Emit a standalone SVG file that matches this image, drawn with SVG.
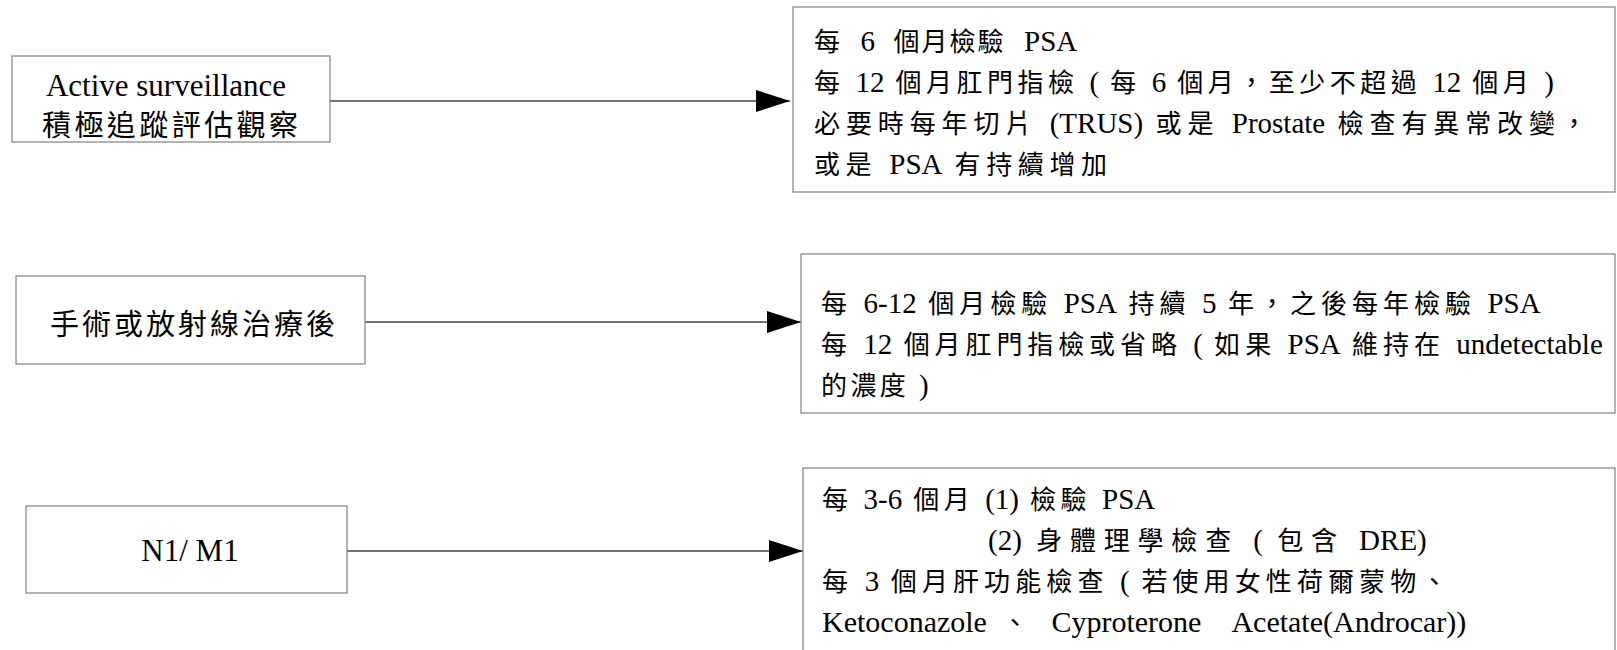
<svg xmlns="http://www.w3.org/2000/svg" width="1617" height="650" viewBox="0 0 1617 650">
<style>
.box{fill:#fff;stroke:#8a8a8a;stroke-width:1.3}
.t{font-family:"Liberation Serif","Noto Sans CJK TC",serif;fill:#000}
.r{font-size:26px}
.la{font-size:29px;letter-spacing:0}
.lb{font-size:30px;letter-spacing:0}
.l{font-size:31px}
.lc{font-size:29px}
.c{stroke:#444;stroke-width:1.3;fill:none}
</style>
<defs>
<marker id="ah" markerUnits="userSpaceOnUse" markerWidth="36" markerHeight="24" refX="34" refY="11" orient="auto">
<path d="M0,0 L34,11 L0,22 Z" fill="#000"/>
</marker>
</defs>
<rect width="1617" height="650" fill="#fff"/>
<g id="connectors">
<line class="c" x1="330" y1="101" x2="790" y2="101" marker-end="url(#ah)"/>
<line class="c" x1="365" y1="322" x2="801" y2="322" marker-end="url(#ah)"/>
<line class="c" x1="347" y1="551" x2="803" y2="551" marker-end="url(#ah)"/>
</g>
<g id="n-active">
<rect class="box" x="12" y="56" width="318" height="86"/>
<text class="t l" x="166" y="96" text-anchor="middle">Active surveillance</text>
<text class="t lc" x="42" y="136" textLength="256" lengthAdjust="spacing">積極追蹤評估觀察</text>
</g>
<g id="n-post">
<rect class="box" x="16" y="276" width="349" height="88"/>
<text class="t lc" x="50" y="335" textLength="285" lengthAdjust="spacing">手術或放射線治療後</text>
</g>
<g id="n-n1m1">
<rect class="box" x="26" y="506" width="321" height="87"/>
<text class="t l" x="190" y="561" text-anchor="middle">N1/ M1</text>
</g>
<g id="r-active">
<rect class="box" x="793" y="7" width="822" height="185"/>
<text class="t r" x="814" y="51" style="letter-spacing:2px;word-spacing:10px">每 <tspan class="la">6</tspan> 個月檢驗 <tspan class="la">PSA</tspan></text>
<text class="t r" x="814" y="92" style="letter-spacing:4.5px">每 <tspan class="la">12</tspan> 個月肛門指檢 <tspan class="la">(</tspan> 每 <tspan class="la">6</tspan> 個月，至少不超過 <tspan class="la">12</tspan> 個月 <tspan class="la">)</tspan></text>
<text class="t r" x="814" y="133" style="letter-spacing:5.9px">必要時每年切片 <tspan class="la">(TRUS)</tspan> 或是 <tspan class="la">Prostate</tspan> 檢查有異常改變，</text>
<text class="t r" x="814" y="174" style="letter-spacing:5.6px">或是 <tspan class="la">PSA</tspan> 有持續增加</text>
</g>
<g id="r-post">
<rect class="box" x="801" y="254" width="814" height="159"/>
<text class="t r" x="821" y="313" style="letter-spacing:5px">每 <tspan class="la">6-12</tspan> 個月檢驗 <tspan class="la">PSA</tspan> 持續 <tspan class="la">5</tspan> 年，之後每年檢驗 <tspan class="la">PSA</tspan></text>
<text class="t r" x="821" y="354" style="letter-spacing:4.9px">每 <tspan class="la">12</tspan> 個月肛門指檢或省略 <tspan class="la">(</tspan> 如果 <tspan class="la">PSA</tspan> 維持在 <tspan class="la">undetectable</tspan></text>
<text class="t r" x="821" y="395" style="letter-spacing:3.4px">的濃度 <tspan class="la">)</tspan></text>
</g>
<g id="r-n1m1">
<rect class="box" x="803" y="468" width="812" height="200"/>
<text class="t r" x="822" y="509" style="letter-spacing:4.5px">每 <tspan class="la">3-6</tspan> 個月 <tspan class="la">(1)</tspan> 檢驗 <tspan class="la">PSA</tspan></text>
<text class="t r" x="988" y="550" style="letter-spacing:7.8px"><tspan class="la">(2)</tspan> 身體理學檢查 <tspan class="la">(</tspan> 包含 <tspan class="la">DRE)</tspan></text>
<text class="t r" x="822" y="591" style="letter-spacing:5.1px">每 <tspan class="la">3</tspan> 個月肝功能檢查 <tspan class="la">(</tspan> 若使用女性荷爾蒙物、</text>
<text class="t r" x="822" y="632" xml:space="preserve" style="letter-spacing:8.5px"><tspan class="lb">Ketoconazole</tspan> 、 <tspan class="lb">Cyproterone</tspan>  <tspan class="lb">Acetate(Androcar))</tspan></text>
</g>
</svg>
